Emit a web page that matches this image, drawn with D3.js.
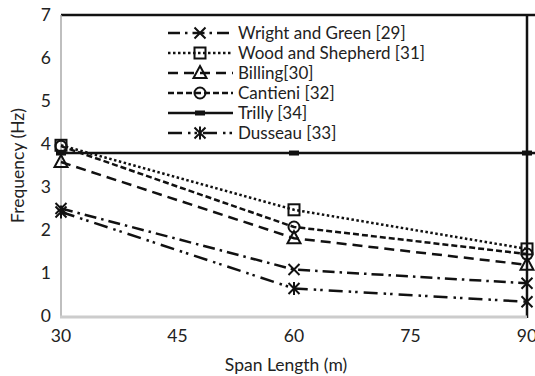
<!DOCTYPE html>
<html>
<head>
<meta charset="utf-8">
<script src="https://cdn.jsdelivr.net/npm/d3@7"></script>
<style>
  body { margin: 0; background: #fff; }
  svg { display: block; font-family: Lato, "Open Sans", sans-serif; }
</style>
</head>
<body>
<div id="chart"></div>
<script>
// Span lengths (m)
const spans = [30, 60, 90];

// Frequencies (Hz) per study
const wrightGreen = [2.5, 1.08, 0.76];
const woodShepherd = [3.97, 2.47, 1.56];
const billing = [3.58, 1.81, 1.19];
const cantieni = [3.95, 2.07, 1.44];
const trilly = [3.79, 3.79, 3.79];
const dusseau = [2.42, 0.64, 0.33];

const seriesNames = ['Wright and Green [29]', 'Wood and Shepherd [31]', 'Billing[30]',
  'Cantieni [32]', 'Trilly [34]', 'Dusseau [33]'];
const seriesValues = [wrightGreen, woodShepherd, billing, cantieni, trilly, dusseau];

const yTicks = [0, 1, 2, 3, 4, 5, 6, 7];
const xTicks = [30, 45, 60, 75, 90];

const width = 535, height = 376;
const margin = { top: 15, right: 8, bottom: 60, left: 61 };

// line style per series
const styles = [
  { dash: '12,5,2.5,5', marker: 'cross' },
  { dash: '2.5,2.5', marker: 'square' },
  { dash: '10,6', marker: 'triangle' },
  { dash: '6,3', marker: 'circle' },
  { dash: null, marker: 'bar' },
  { dash: '14,6,2.5,4,2.5,6', marker: 'asterisk' }
];

const svg = d3.select('#chart').append('svg')
  .attr('width', width)
  .attr('height', height);

const x = d3.scaleLinear().domain([30, 90]).range([margin.left, width - margin.right]);
const y = d3.scaleLinear().domain([0, 7]).range([height - margin.bottom, margin.top]);

// frame: top and right black lines
svg.append('line')
  .attr('x1', x(30)).attr('x2', width)
  .attr('y1', y(7)).attr('y2', y(7))
  .attr('stroke', '#111').attr('stroke-width', 2.5);
svg.append('line')
  .attr('x1', x(90)).attr('x2', x(90))
  .attr('y1', y(7)).attr('y2', y(0) + 2)
  .attr('stroke', '#111').attr('stroke-width', 2.5);

// axes
svg.append('line')
  .attr('x1', x(30)).attr('x2', x(30))
  .attr('y1', y(7)).attr('y2', y(0))
  .attr('stroke', '#aaa').attr('stroke-width', 1.5);
svg.append('line')
  .attr('x1', x(30) - 1).attr('x2', x(90))
  .attr('y1', y(0) + 1).attr('y2', y(0) + 1)
  .attr('stroke', '#ccc').attr('stroke-width', 3);

svg.append('g').selectAll('text')
  .data(yTicks)
  .enter().append('text')
  .attr('x', 51)
  .attr('y', d => y(d))
  .attr('dy', '0.35em')
  .attr('text-anchor', 'end')
  .attr('font-size', 17.5)
  .attr('fill', '#222')
  .text(d => d);

svg.append('g').selectAll('text')
  .data(xTicks)
  .enter().append('text')
  .attr('x', d => x(d))
  .attr('y', y(0) + 20)
  .attr('dy', '0.35em')
  .attr('text-anchor', 'middle')
  .attr('font-size', 17.5)
  .attr('fill', '#222')
  .text(d => d);

svg.append('text')
  .attr('x', (x(30) + x(90)) / 2 - 8)
  .attr('y', 365)
  .attr('dy', '0.35em')
  .attr('text-anchor', 'middle')
  .attr('font-size', 17.5)
  .attr('fill', '#222')
  .text('Span Length (m)');

svg.append('text')
  .attr('transform', `translate(18, ${(y(0) + y(7)) / 2}) rotate(-90)`)
  .attr('dy', '0.35em')
  .attr('text-anchor', 'middle')
  .attr('font-size', 17.5)
  .attr('fill', '#222')
  .text('Frequency (Hz)');

function drawMarker(g, type, cx, cy) {
  const s = 5.5;
  const stroke = { stroke: '#111', 'stroke-width': 2, fill: 'none' };
  const apply = sel => { Object.entries(stroke).forEach(([k, v]) => sel.attr(k, v)); return sel; };
  if (type === 'cross') {
    apply(g.append('path').attr('d', `M${cx - s},${cy - s}L${cx + s},${cy + s}M${cx - s},${cy + s}L${cx + s},${cy - s}`));
  } else if (type === 'asterisk') {
    apply(g.append('path').attr('d', `M${cx - s},${cy - s}L${cx + s},${cy + s}M${cx - s},${cy + s}L${cx + s},${cy - s}M${cx},${cy - s - 1}L${cx},${cy + s + 1}`));
  } else if (type === 'square') {
    apply(g.append('rect').attr('x', cx - 5.5).attr('y', cy - 5.5).attr('width', 11).attr('height', 11));
  } else if (type === 'triangle') {
    apply(g.append('path').attr('d', `M${cx},${cy - 7}L${cx + 6.5},${cy + 5}L${cx - 6.5},${cy + 5}Z`));
  } else if (type === 'circle') {
    apply(g.append('circle').attr('cx', cx).attr('cy', cy).attr('r', 5.5));
  } else if (type === 'bar') {
    g.append('rect').attr('x', cx - 5).attr('y', cy - 2.5).attr('width', 10).attr('height', 5).attr('fill', '#111');
  }
}

const line = d3.line().x((d, i) => x(spans[i])).y(d => y(d));

const plot = svg.append('g');
seriesValues.forEach((vals, k) => {
  const st = styles[k];
  const path = plot.append('path')
    .datum(vals)
    .attr('d', line)
    .attr('fill', 'none')
    .attr('stroke', '#111')
    .attr('stroke-width', 2.5);
  if (st.dash) path.attr('stroke-dasharray', st.dash);
  vals.forEach((v, i) => drawMarker(plot, st.marker, x(spans[i]), y(v)));
});

// Trilly line runs on past the right frame
plot.append('line')
  .attr('x1', x(90)).attr('x2', width)
  .attr('y1', y(trilly[2])).attr('y2', y(trilly[2]))
  .attr('stroke', '#111').attr('stroke-width', 2.5);

// legend
const legend = svg.append('g').attr('transform', 'translate(168, 33)');
const rows = legend.selectAll('g')
  .data(seriesNames)
  .enter().append('g')
  .attr('transform', (d, i) => `translate(0, ${i * 20})`);

rows.each(function(name, k) {
  const row = d3.select(this);
  const st = styles[k];
  const l = row.append('line')
    .attr('x1', 0).attr('x2', 65)
    .attr('y1', 0).attr('y2', 0)
    .attr('stroke', '#111').attr('stroke-width', 2.5);
  if (st.dash) l.attr('stroke-dasharray', st.dash);
  drawMarker(row, st.marker, 32, 0);
  row.append('text')
    .attr('x', 70)
    .attr('y', 0)
    .attr('dy', '0.35em')
    .attr('font-size', 17)
    .attr('fill', '#222')
    .text(name);
});
</script>
</body>
</html>
